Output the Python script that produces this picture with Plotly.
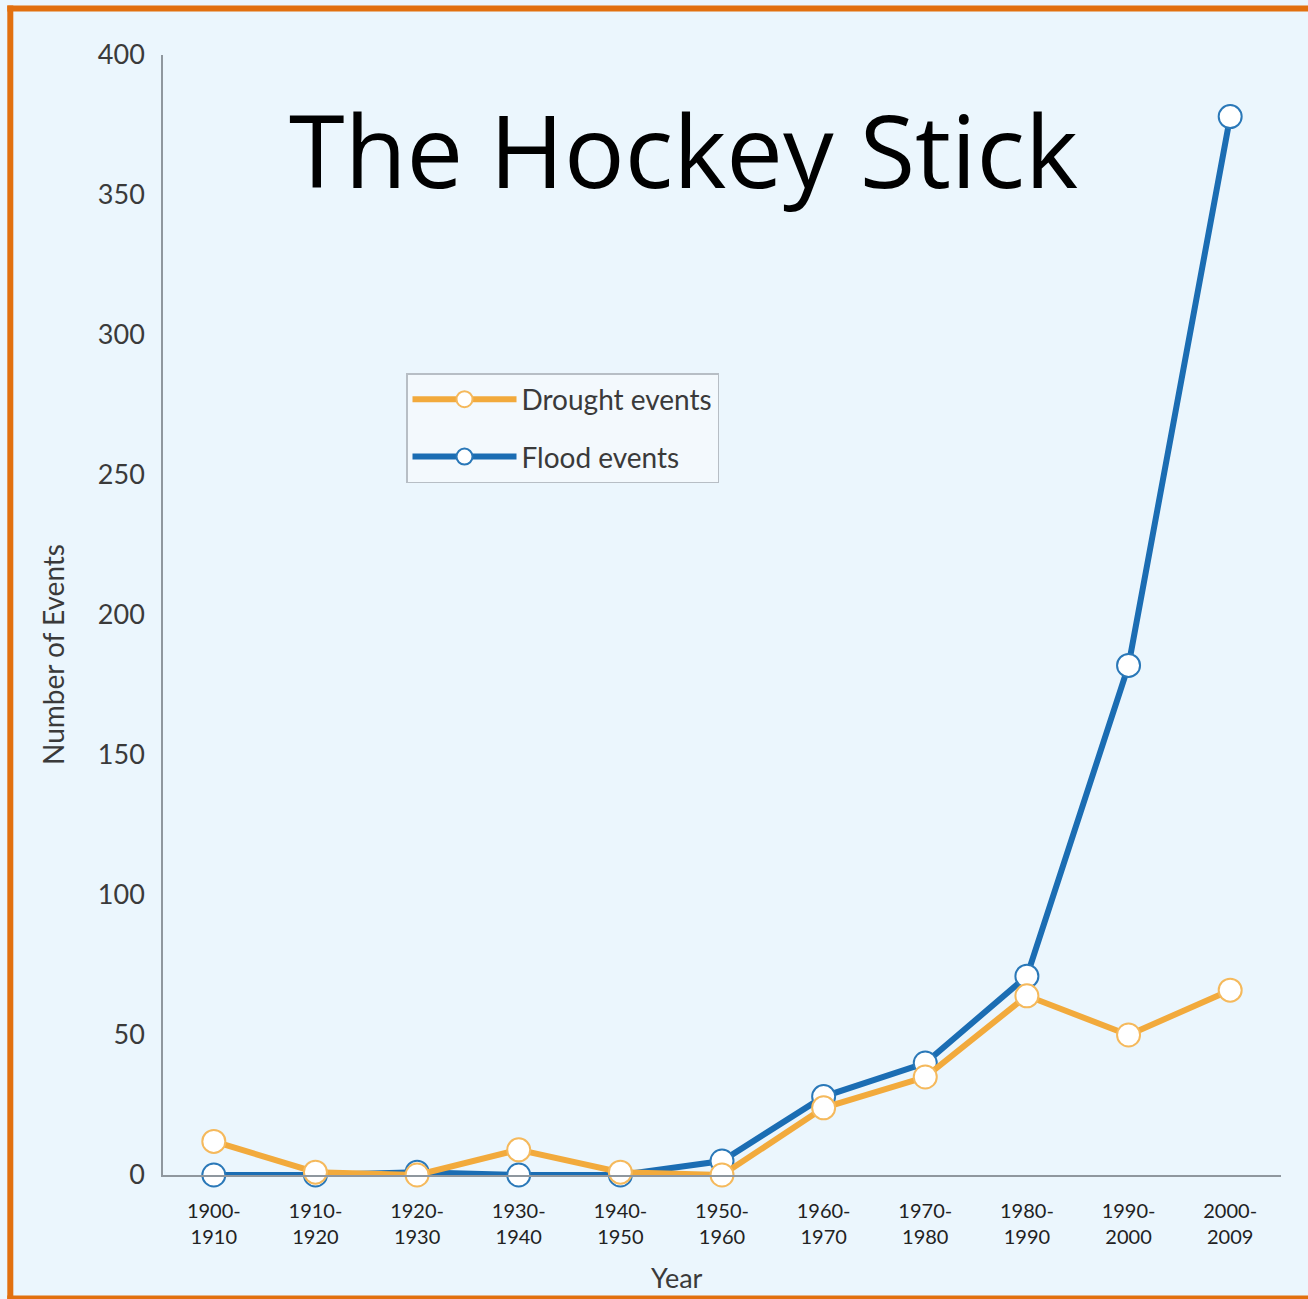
import plotly.graph_objects as go

# Decades on the x axis and event counts per decade
decades = ["1900-1910", "1910-1920", "1920-1930", "1930-1940", "1940-1950",
           "1950-1960", "1960-1970", "1970-1980", "1980-1990", "1990-2000",
           "2000-2009"]
tick_labels = ["1900-<br>1910", "1910-<br>1920", "1920-<br>1930", "1930-<br>1940",
               "1940-<br>1950", "1950-<br>1960", "1960-<br>1970", "1970-<br>1980",
               "1980-<br>1990", "1990-<br>2000", "2000-<br>2009"]
drought_events = [12, 1, 0, 9, 1, 0, 24, 35, 64, 50, 66]
flood_events = [0, 0, 1, 0, 0, 5, 28, 40, 71, 182, 378]

BG = "#ebf6fd"
ORANGE_FRAME = "#e2700f"
DROUGHT = "#f2aa3c"
FLOOD = "#1b6db3"
TEXT = "#3a3a3a"
FONT = "Lato, 'Open Sans', sans-serif"

W, H = 1308, 1299
L, R, T, B = 163, 27, 55, 124
pw, ph = W - L - R, H - T - B


def px_x(px):
    return (px - L) / pw


def px_y(py):
    return (H - B - py) / ph


fig = go.Figure()

fig.add_trace(go.Scatter(
    x=decades, y=flood_events, name="Flood events", mode="lines+markers",
    legendgroup="flood", legendrank=2, cliponaxis=False,
    line=dict(color=FLOOD, width=6),
    marker=dict(symbol="circle", size=23, color="white",
                line=dict(color="#2a78b8", width=2)),
))
fig.add_trace(go.Scatter(
    x=decades, y=drought_events, name="Drought events", mode="lines+markers",
    legendgroup="drought", legendrank=1, cliponaxis=False,
    line=dict(color=DROUGHT, width=6),
    marker=dict(symbol="circle", size=23, color="white",
                line=dict(color="#f5b95c", width=2)),
))

# Frame around the graphic: left, top and bottom edges
frame = dict(color=ORANGE_FRAME, width=6)
fig.add_shape(type="line", xref="paper", yref="paper",
              x0=px_x(10.3), x1=px_x(10.3), y0=px_y(1299), y1=px_y(5.5),
              line=frame, layer="above")
fig.add_shape(type="line", xref="paper", yref="paper",
              x0=px_x(7.3), x1=px_x(1308), y0=px_y(8.5), y1=px_y(8.5),
              line=frame, layer="above")
fig.add_shape(type="line", xref="paper", yref="paper",
              x0=px_x(7.3), x1=px_x(1308), y0=px_y(1298.5), y1=px_y(1298.5),
              line=frame, layer="above")

# Big title
fig.add_annotation(text="The Hockey Stick", xref="paper", yref="paper",
                   x=px_x(683), y=px_y(149), xanchor="center", yanchor="middle",
                   showarrow=False,
                   font=dict(family="'Open Sans', sans-serif", size=101, color="black"))

# Axis titles
fig.add_annotation(text="Year", xref="paper", yref="paper",
                   x=px_x(677), y=px_y(1277), xanchor="center", yanchor="middle",
                   showarrow=False, font=dict(family=FONT, size=27, color=TEXT))
fig.add_annotation(text="Number of Events", xref="paper", yref="paper",
                   x=px_x(53), y=px_y(655), xanchor="center", yanchor="middle",
                   textangle=-90, showarrow=False,
                   font=dict(family=FONT, size=28, color=TEXT))

fig.update_xaxes(
    type="category", range=[-0.5, 10.5],
    tickmode="array", tickvals=decades, ticktext=tick_labels,
    showline=True, linecolor="#8f979e", linewidth=1.5,
    showgrid=False, zeroline=False, ticks="",
    ticklabelstandoff=17,
    tickfont=dict(family=FONT, size=20, color="#222222"),
)
fig.update_yaxes(
    range=[0, 400], tickvals=[0, 50, 100, 150, 200, 250, 300, 350, 400],
    showline=True, linecolor="#8f979e", linewidth=1.5,
    showgrid=False, zeroline=False, ticks="",
    ticklabelstandoff=11,
    tickfont=dict(family=FONT, size=27, color=TEXT),
)

fig.update_layout(
    width=W, height=H,
    margin=dict(l=L, r=R, t=T, b=B),
    paper_bgcolor=BG, plot_bgcolor=BG,
    showlegend=True,
    legend=dict(
        x=px_x(406), y=px_y(373), xanchor="left", yanchor="top",
        traceorder="grouped", tracegroupgap=18,
        bgcolor="#f3f9fd", bordercolor="#b7bec5", borderwidth=1.5,
        font=dict(family=FONT, size=28, color=TEXT),
        itemwidth=104, entrywidth=218,
    ),
)

fig.write_html("out.html")
